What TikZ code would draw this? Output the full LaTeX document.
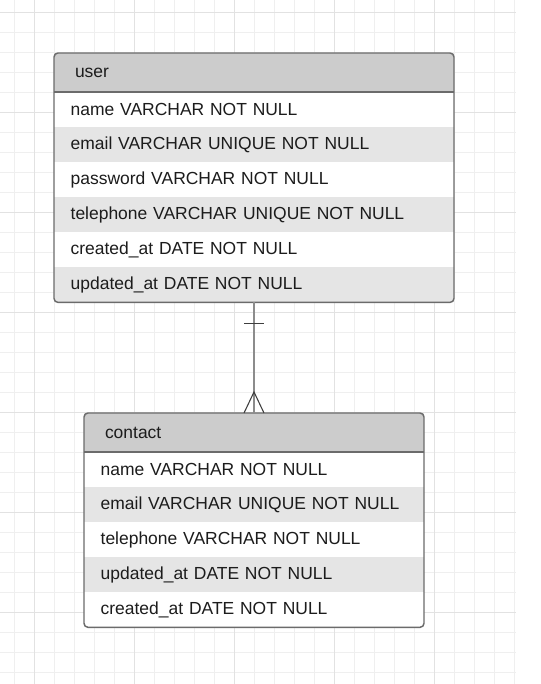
\documentclass[tikz,border=0pt]{standalone}
\usepackage{fontspec}
\setmainfont{Liberation Sans}
\usetikzlibrary{positioning,calc}
\definecolor{erframe}{HTML}{6B6B6B}
\definecolor{erhead}{HTML}{CCCCCC}
\definecolor{erband}{HTML}{E5E5E5}
\definecolor{ertext}{HTML}{1C1C1C}
\definecolor{erlinkgray}{HTML}{8C8C8C}
\definecolor{gridminor}{HTML}{EFEFEF}
\definecolor{gridmajor}{HTML}{E2E2E2}

\begin{document}
\begin{tikzpicture}[x=0.75pt,y=-0.75pt,
  tblcell/.style={rectangle,anchor=north west,inner ysep=0pt,outer sep=0pt,
    align=left,text=ertext,font=\fontsize{13.1}{15}\selectfont},
  tblhead/.style={tblcell,fill=erhead,minimum height=29.25pt,inner xsep=15.75pt},
  tblrow/.style={tblcell,fill=white,minimum height=26.3pt,inner xsep=12.5pt},
  tblband/.style={tblrow,fill=erband},
  tblframe/.style={draw=erframe,line width=1.1pt,rounded corners=3pt},
  tblsep/.style={draw=erframe,line width=1.1pt},
  erlink/.style={draw=erlinkgray,line width=1.1pt},
  ermark/.style={draw=ertext!85,line width=0.8pt}]
  \useasboundingbox (0,0) rectangle (541,684);
  \fill[white] (0,0) rectangle (541,684);
  % background grid
  \foreach \gx in {14,34,...,514} \draw[gridminor,line width=0.75pt] (\gx,0) -- (\gx,684);
  \foreach \gy in {12.7,32.7,...,672.7} \draw[gridminor,line width=0.75pt] (0,\gy) -- (516,\gy);
  \foreach \gx in {34,134,...,434} \draw[gridmajor,line width=0.75pt] (\gx,0) -- (\gx,684);
  \foreach \gy in {12.7,112.7,...,612.7} \draw[gridmajor,line width=0.75pt] (0,\gy) -- (516,\gy);

  % user table
  \begin{scope}
    \clip[rounded corners=3pt] (54,53) rectangle (454,302.5);
    \node[tblhead,text width=268.5pt] (u0) at (54,53) {user};
    \node[tblrow,text width=275pt,below=0pt of u0] (u1) {name VARCHAR NOT NULL};
    \node[tblband,text width=275pt,below=0pt of u1] (u2) {email VARCHAR UNIQUE NOT NULL};
    \node[tblrow,text width=275pt,below=0pt of u2] (u3) {password VARCHAR NOT NULL};
    \node[tblband,text width=275pt,below=0pt of u3] (u4) {telephone VARCHAR UNIQUE NOT NULL};
    \node[tblrow,text width=275pt,below=0pt of u4] (u5) {created\_at DATE NOT NULL};
    \node[tblband,text width=275pt,below=0pt of u5] (u6) {updated\_at DATE NOT NULL};
  \end{scope}
  \draw[tblsep] (u0.south west) -- (u0.south east);
  \draw[tblframe] (u0.north west) rectangle (u6.south east);

  % contact table
  \begin{scope}
    \clip[rounded corners=3pt] (84,413) rectangle (424,628);
    \node[tblhead,text width=223.5pt] (c0) at (84,413) {contact};
    \node[tblrow,text width=230pt,below=0pt of c0] (c1) {name VARCHAR NOT NULL};
    \node[tblband,text width=230pt,below=0pt of c1] (c2) {email VARCHAR UNIQUE NOT NULL};
    \node[tblrow,text width=230pt,below=0pt of c2] (c3) {telephone VARCHAR NOT NULL};
    \node[tblband,text width=230pt,below=0pt of c3] (c4) {updated\_at DATE NOT NULL};
    \node[tblrow,text width=230pt,below=0pt of c4] (c5) {created\_at DATE NOT NULL};
  \end{scope}
  \draw[tblsep] (c0.south west) -- (c0.south east);
  \draw[tblframe] (c0.north west) rectangle (c5.south east);

  % one-to-many link
  \draw[erlink] (u6.south) -- (c0.north);
  \draw[ermark] ($(u6.south)+(-10,21)$) -- ($(u6.south)+(10,21)$);
  \draw[ermark] ($(c0.north)+(-10,0)$) -- ($(c0.north)+(0,-21)$) -- ($(c0.north)+(10,0)$);
\end{tikzpicture}
\end{document}
